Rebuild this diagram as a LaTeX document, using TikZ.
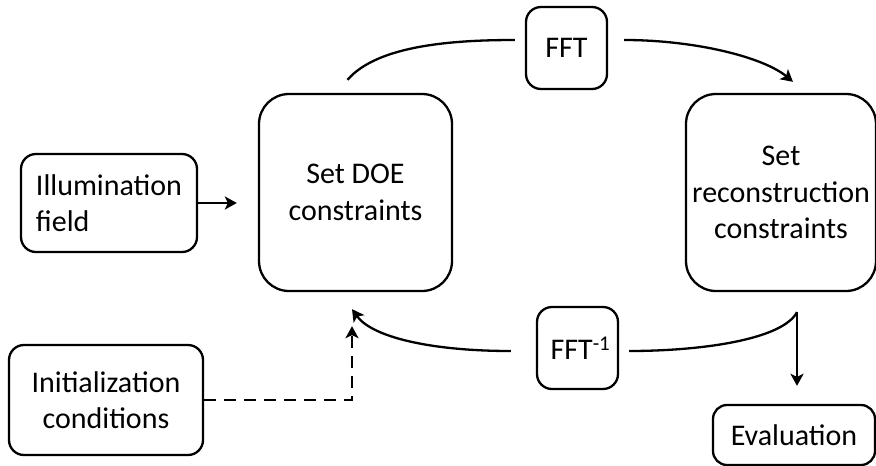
\documentclass[tikz,border=0pt]{standalone}
\usepackage{fontspec}
\setmainfont{Carlito}
\usetikzlibrary{arrows.meta}
\begin{document}
\begin{tikzpicture}[x=1pt,y=-1pt,
  box/.style={draw=black,line width=2.3pt,rounded corners=15pt,inner sep=0pt,
    font=\fontsize{30}{36.5}\selectfont,align=center},
  bigbox/.style={box,rounded corners=30pt},
  conn/.style={draw=black,line width=2.3pt},
  arr/.style={conn,-{Stealth[length=12pt,width=13pt,inset=3pt]}},
  darr/.style={arr,dash pattern=on 12pt off 8pt}]
\useasboundingbox (0,0) rectangle (876,466);
\node[box,minimum width=176pt,minimum height=98pt,align=left] (illum) at (109,203) {Illumination\\field};
\node[box,minimum width=194pt,minimum height=110pt] (init) at (106,400) {Initialization\\conditions};
\node[bigbox,minimum width=193pt,minimum height=197pt] (doe) at (355.5,192.5) {Set DOE\\constraints};
\node[bigbox,minimum width=190pt,minimum height=197pt] (recon) at (781,192.5) {Set\\reconstruction\\constraints};
\node[box,minimum width=81pt,minimum height=82pt] (fft) at (566.5,48) {FFT};
\node[box,minimum width=81pt,minimum height=82pt] (ifft) at (577.5,348) {\hspace*{6pt}FFT\textsuperscript{-1}};
\node[box,minimum width=162pt,minimum height=60pt,rounded corners=14pt] (eval) at (794,435) {Evaluation};
\coordinate (split) at ([xshift=16pt,yshift=-20pt]recon.south);
% connectors
\draw[arr,shorten >=21pt] (illum.east) -- (illum.east -| doe.west);
\draw[conn] ([xshift=-8pt,yshift=13pt]doe.north) .. controls +(30,-35) and +(-60,0) .. ([xshift=-10pt,yshift=8pt]fft.west);
\draw[arr] ([xshift=16pt,yshift=8pt]fft.east) .. controls +(70,0) and +(-30,-25) .. ([xshift=12pt,yshift=11pt]recon.north);
\draw[conn] (split) .. controls +(-15,28) and +(70,0) .. ([xshift=10pt,yshift=-3pt]ifft.east);
\draw[arr] ([xshift=-25pt,yshift=-3pt]ifft.west) .. controls +(-80,0) and +(20,28) .. ([xshift=-3.5pt,yshift=-17pt]doe.south);
\draw[arr,shorten >=18pt] (split) -- (split |- eval.north);
\draw[darr] (init.east) -| ([xshift=-3.5pt,yshift=-34pt]doe.south);
\end{tikzpicture}
\end{document}
